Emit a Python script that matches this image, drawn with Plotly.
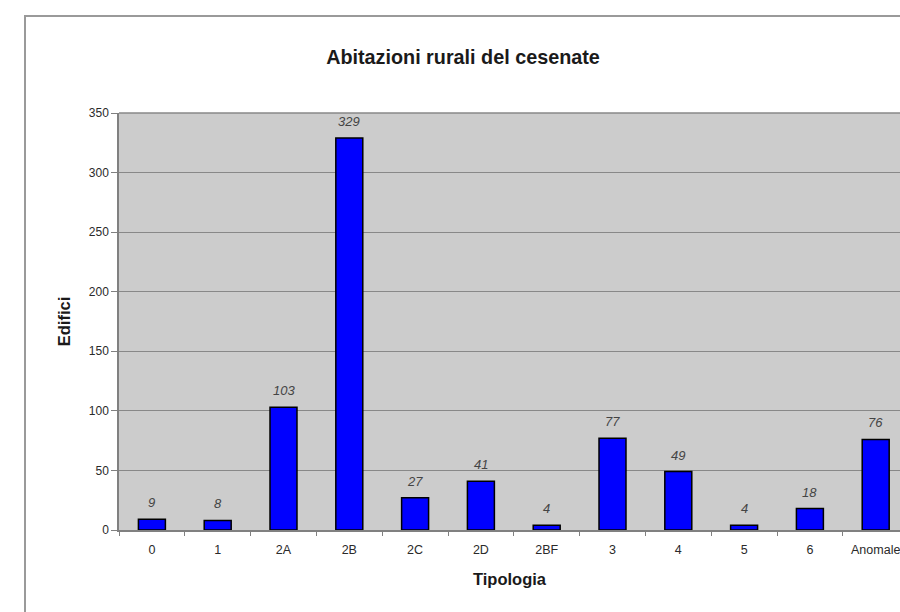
import plotly.graph_objects as go

# Rural dwellings by typology
categories = ["0", "1", "2A", "2B", "2C", "2D", "2BF", "3", "4", "5", "6", "Anomale"]
buildings = [9, 8, 103, 329, 27, 41, 4, 77, 49, 4, 18, 76]

W, H = 900, 612
L, R, T, B = 119, 0, 113, 82
plot_w = W - L - R
plot_h = H - T - B
step_px = 65.8  # pixel width of one category slot

fig = go.Figure(
    go.Bar(
        x=categories,
        y=buildings,
        width=0.41,
        marker=dict(color="#0000ff", line=dict(color="#000000", width=1.5)),
        hoverinfo="x+y",
    )
)

# italic value labels floating above each bar (x given as category index)
for i, val in enumerate(buildings):
    fig.add_annotation(
        x=i, y=val, text=str(val),
        showarrow=False, yanchor="bottom", yshift=7,
        font=dict(family="Liberation Sans, Arial", size=13, color="#444444", style="italic"),
    )


def px_x(px):
    return (px - L) / plot_w


def px_y(py):
    return (H - B - py) / plot_h


# outer chart frame
fig.add_shape(
    type="rect", xref="paper", yref="paper",
    x0=px_x(25), x1=px_x(930), y0=px_y(16), y1=px_y(640),
    line=dict(color="#9a9a9a", width=2), fillcolor="rgba(0,0,0,0)", layer="below",
)

fig.update_layout(
    width=W, height=H,
    margin=dict(l=L, r=R, t=T, b=B),
    paper_bgcolor="#ffffff",
    plot_bgcolor="#cccccc",
    showlegend=False,
    font=dict(family="Liberation Sans, Arial", color="#333333"),
    title=dict(
        text="<b>Abitazioni rurali del cesenate</b>",
        font=dict(size=19.8, color="#1a1a1a"),
        x=463 / W, xref="container", xanchor="center",
        y=1 - 57 / H, yref="container", yanchor="middle",
    ),
)

fig.update_xaxes(
    type="category",
    range=[-0.5, -0.5 + plot_w / step_px],
    showgrid=False,
    showline=True, linecolor="#808080", linewidth=1.5,
    ticks="outside", tickson="boundaries", ticklen=4, tickcolor="#808080",
    ticklabelstandoff=7,
    tickfont=dict(size=12.5, color="#2a2a2a"),
    title=dict(text="<b>Tipologia</b>", font=dict(size=16.5, color="#1a1a1a"), standoff=18),
)

fig.update_yaxes(
    range=[0, 350],
    dtick=50,
    showgrid=True, gridcolor="#888888", gridwidth=1,
    zeroline=False,
    showline=True, linecolor="#808080", linewidth=1.5, mirror=False,
    ticks="outside", ticklen=6, tickcolor="#808080",
    tickfont=dict(size=12, color="#2a2a2a"),
    title=dict(text="<b>Edifici</b>", font=dict(size=16.5, color="#1a1a1a"), standoff=14),
)

# top border of the plot area
fig.add_shape(
    type="line", xref="paper", yref="paper",
    x0=0, x1=1, y0=1, y1=1,
    line=dict(color="#888888", width=1.5),
)

fig.write_html("out.html")
